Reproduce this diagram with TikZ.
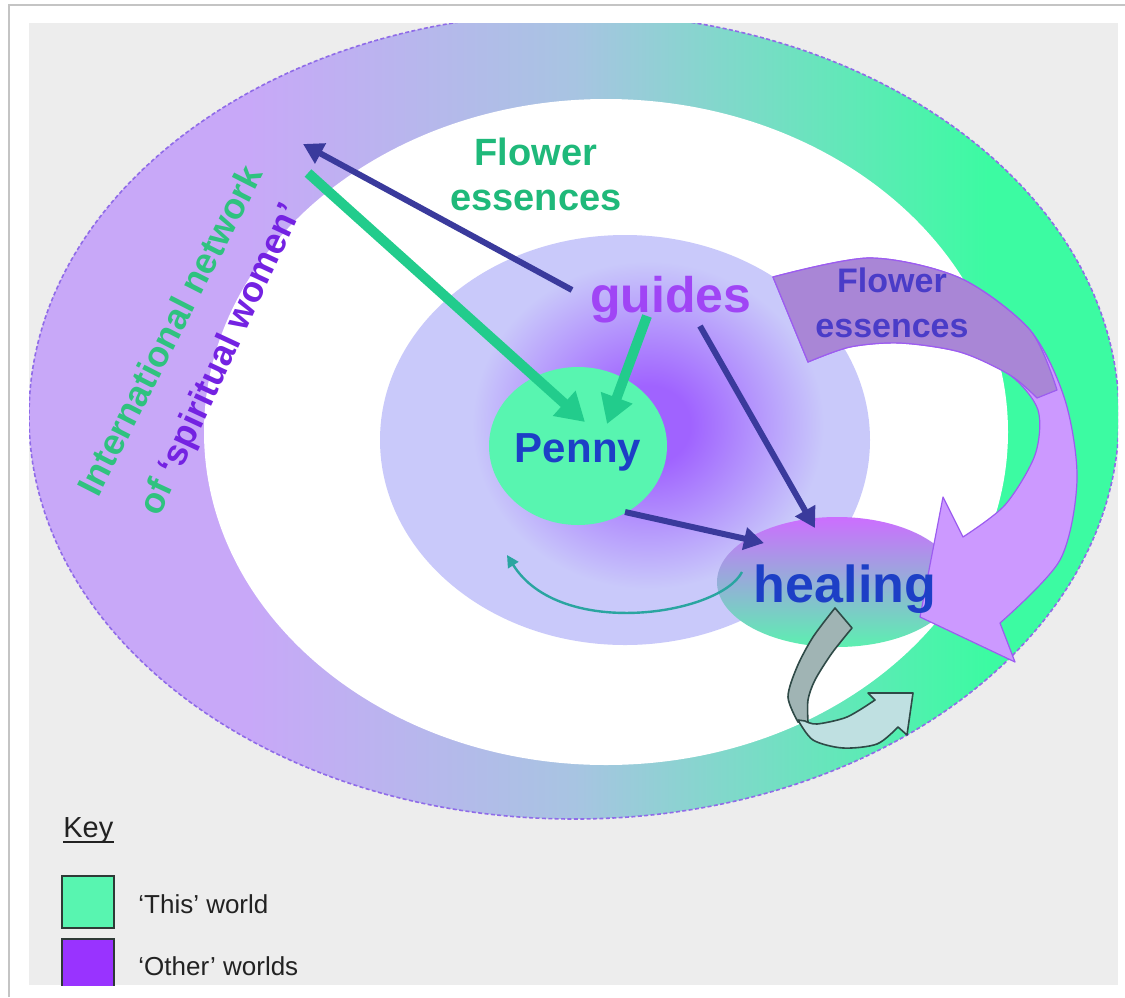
\documentclass[tikz,border=0pt]{standalone}
\usepackage{fontspec}
\setmainfont{Liberation Sans}
\usetikzlibrary{arrows.meta,shapes.geometric}
\definecolor{panelC}{HTML}{EDEDED}
\definecolor{frameC}{HTML}{C4C4C4}
\definecolor{ringP}{HTML}{C8A8F8}
\definecolor{ringM}{HTML}{A8C4E2}
\definecolor{ringG}{HTML}{3CFBA2}
\definecolor{ringB}{HTML}{8F6BE8}
\definecolor{lavC}{HTML}{C9C9FA}
\definecolor{glowC}{HTML}{A063FF}
\definecolor{pennyG}{HTML}{58F5B0}
\definecolor{healT}{HTML}{CC6EFF}
\definecolor{healM}{HTML}{AEA8E2}
\definecolor{healB}{HTML}{5CF0B0}
\definecolor{arrowB}{HTML}{3A3A9C}
\definecolor{arrowG}{HTML}{22CC8C}
\definecolor{tealC}{HTML}{2AA5A0}
\definecolor{flowerG}{HTML}{1FB97A}
\definecolor{guideC}{HTML}{A045F5}
\definecolor{blueT}{HTML}{1D3FC6}
\definecolor{arrowT}{HTML}{4A3CC8}
\definecolor{intlG}{HTML}{2FC27F}
\definecolor{spirP}{HTML}{7422E2}
\definecolor{bigL}{HTML}{CC99FF}
\definecolor{bigD}{HTML}{A986D6}
\definecolor{bigO}{HTML}{9C5CF0}
\definecolor{grayD}{HTML}{A0B4B4}
\definecolor{grayL}{HTML}{BFE0E1}
\definecolor{grayO}{HTML}{2F4A47}
\definecolor{keyT}{HTML}{222222}
\definecolor{keyO}{HTML}{2E3A36}
\definecolor{keyP}{HTML}{9933FF}
\pgfdeclarehorizontalshading{ringshade}{100bp}{color(0bp)=(ringP); color(35bp)=(ringP); color(50bp)=(ringM); color(69bp)=(ringG); color(100bp)=(ringG)}
\pgfdeclareradialshading{lavglow}{\pgfpointorigin}{color(0bp)=(glowC); color(6bp)=(glowC); color(25bp)=(lavC); color(50bp)=(lavC)}
\begin{document}
\begin{tikzpicture}[x=0.5pt,y=-0.5pt,
  darkarrow/.style={draw=arrowB, line width=3pt, -{Triangle[length=10pt,width=11pt]}},
  greenarrow/.style={draw=arrowG, line width=5pt, -{Triangle[length=14pt,width=16pt]}},
  tealarrow/.style={draw=tealC, line width=1.2pt, -{Triangle[length=6pt,width=6pt]}},
  lbl/.style={inner sep=0pt, font=\bfseries},
  keysq/.style={draw=keyO, line width=1pt, minimum width=26pt, minimum height=26pt, inner sep=0pt, anchor=north west},
  keytxt/.style={anchor=base west, inner sep=0pt, text=keyT, font=\fontsize{13}{15}\selectfont}
]
\fill[white] (0,0) rectangle (1125,997);
\useasboundingbox (0,0) rectangle (1125,997);
\draw[frameC, line width=0.8pt] (9,997) -- (9,5) -- (1125,5);
\fill[panelC] (29,23) rectangle (1118,985);
\begin{scope}
\clip (29,23) rectangle (1118,985);
% outer ring
\shade[shading=ringshade] (574,416) ellipse [x radius=272.5pt, y radius=201.5pt];
\draw[ringB, line width=0.8pt, dash pattern=on 2pt off 1.2pt] (574,416) ellipse [x radius=272.5pt, y radius=201.5pt];
% white inner
\fill[white] (606,432) ellipse [x radius=201pt, y radius=166.5pt];
% lavender
\fill[lavC] (625,440) ellipse [x radius=122.5pt, y radius=102.5pt];
\shade[shading=lavglow] (648,425) ellipse [x radius=88pt, y radius=82pt];
% Penny and healing areas
\fill[pennyG] (578,446) ellipse [x radius=44.5pt, y radius=39.5pt];
\shade[top color=healT, middle color=healM, bottom color=healB] (837,582) ellipse [x radius=60pt, y radius=32.5pt];
% coordinates
\coordinate (netTip) at (303,144);
\coordinate (netTail) at (308,173);
\coordinate (gL) at (572,290);
\coordinate (gB) at (647,316);
\coordinate (gR) at (700,326);
\coordinate (pTop1) at (585,422);
\coordinate (pTop2) at (607,424);
\coordinate (pBR) at (625,512);
\coordinate (hL) at (764,543);
\coordinate (hT) at (815,528);
\coordinate (hIn) at (742,572);
\coordinate (lavIn) at (507,555);
% arrows
\draw[darkarrow] (gL) -- (netTip);
\draw[greenarrow] (netTail) -- (pTop1);
\draw[greenarrow] (gB) -- (pTop2);
\draw[darkarrow] (gR) -- (hT);
\draw[darkarrow] (pBR) -- (hL);
\draw[tealarrow] (hIn) .. controls (720,615) and (560,640) .. (lavIn);
% texts
\node[lbl, text=flowerG, align=center, font=\bfseries\fontsize{19}{22.5}\selectfont] (fe1) at (536,174) {Flower\\essences};
\node[lbl, anchor=base, text=guideC, font=\bfseries\fontsize{25}{30}\selectfont] (guides) at (671,312) {guides};
\node[lbl, anchor=base, text=blueT, font=\bfseries\fontsize{21}{25}\selectfont] (penny) at (578,462) {Penny};
\node[lbl, anchor=base, rotate=63, text=intlG, font=\bfseries\fontsize{18}{22}\selectfont] (intl) at (181,336) {International network};
\node[lbl, anchor=base, rotate=65, text=spirP, font=\bfseries\fontsize{18}{22}\selectfont] (spir) at (231,364) {\textcolor{intlG}{of} ‘spiritual women’};
% big curved arrow
\draw[fill=bigL, draw=bigO, line width=0.6pt, line join=round]
  plot[smooth] coordinates {(773,277) (870,258) (960,278) (1030,330) (1065,400) (1077,480) (1060,560) (1000,623)}
  -- (1015,662) -- (920,617) -- (943,497)
  -- plot[smooth] coordinates {(963,537) (1005,505) (1035,455) (1038,410) (1010,375) (960,352) (900,343) (850,347) (808,362)}
  -- cycle;
\draw[fill=bigD, draw=bigO, line width=0.6pt, line join=round]
  plot[smooth] coordinates {(773,277) (870,258) (960,278) (1030,330) (1057,390)}
  -- plot[smooth] coordinates {(1037,398) (1010,375) (960,352) (900,343) (850,347) (808,362)}
  -- cycle;
\node[lbl, text=arrowT, align=center, font=\bfseries\fontsize{17}{22.5}\selectfont] (fe2) at (892,303) {Flower\\essences};
\node[lbl, anchor=base, text=blueT, font=\bfseries\fontsize{26}{30}\selectfont] (healing) at (845,602) {healing};
% grey U-turn arrow
\draw[fill=grayD, draw=grayO, line width=0.8pt, line join=round]
  (835,608) -- plot[smooth] coordinates {(852,628) (832,653) (815,680) (808,700) (808,722)}
  -- plot[smooth] coordinates {(798,722) (788,697) (797,667) (813,637) (835,608)} -- cycle;
\draw[fill=grayL, draw=grayO, line width=0.8pt, line join=round]
  plot[smooth] coordinates {(798,720) (813,740) (843,748) (877,744) (898,727)}
  -- (907,735) -- (913,693) -- (868,693)
  -- plot[smooth] coordinates {(875,700) (847,717) (817,724) (805,721)} -- cycle;
% key
\node[anchor=base west, inner sep=0pt, text=keyT, font=\fontsize{14.5}{17}\selectfont] (keyttl) at (63,837) {Key};
\draw[keyT, line width=0.6pt] ([yshift=-2.5pt]keyttl.base west) -- ([yshift=-2.5pt]keyttl.base east);
\node[keysq, fill=pennyG] (kthis) at (61,875) {};
\node[keysq, fill=keyP] (kother) at (61,938) {};
\node[keytxt] (tthis) at (138,913) {‘This’ world};
\node[keytxt] (tother) at (138,975) {‘Other’ worlds};
\end{scope}
\end{tikzpicture}
\end{document}
